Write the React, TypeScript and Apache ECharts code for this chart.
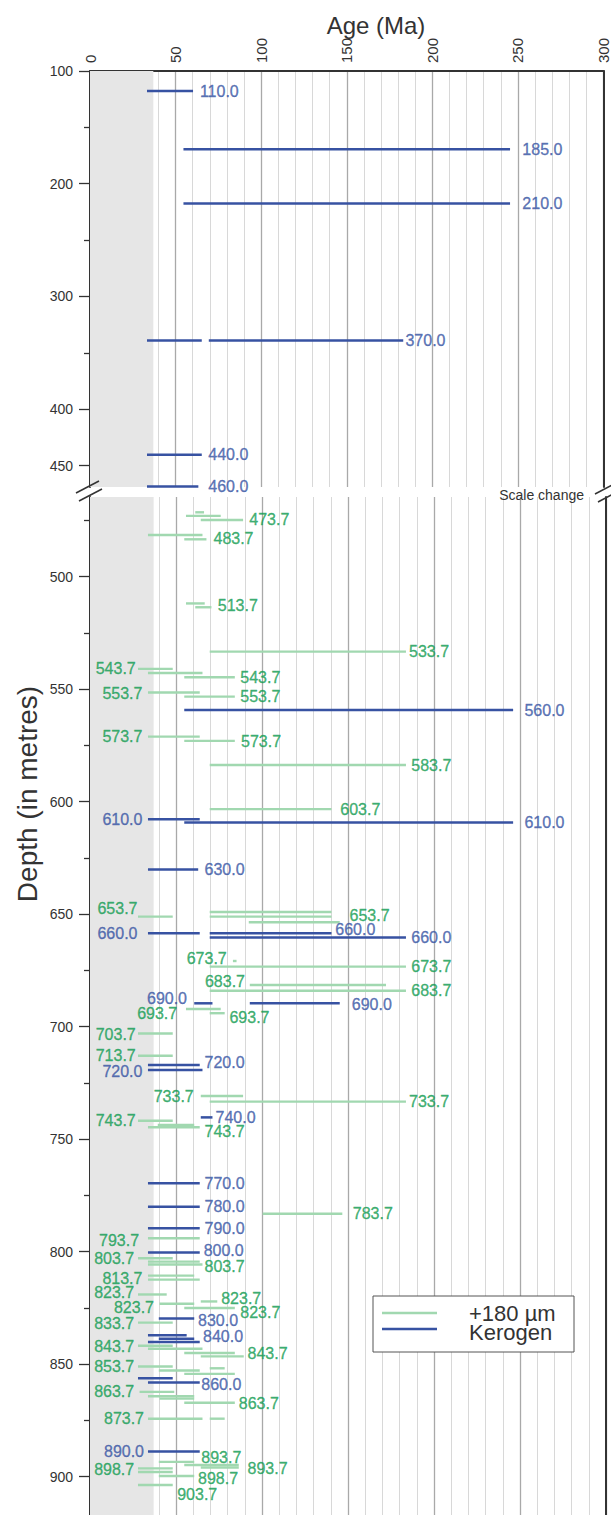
import React, { useEffect, useRef } from 'react';
import * as echarts from 'echarts';

// ---------- data ----------
// segments: [ageStart (Ma), ageEnd (Ma), plotted depth (m)]
const upperKerogen: number[][] = [
  [33.3, 60.2, 117.8], [54.6, 245.4, 169.3], [54.6, 245.4, 217.6],
  [33.3, 65.3, 339.1], [69.4, 183.0, 339.1], [33.3, 65.3, 440.4], [33.3, 63.3, 468.6],
];
const lowerKerogen: number[][] = [
  [54.8, 246, 559.3], [33.7, 63.8, 607.8], [54.8, 246, 609.3], [33.7, 62.9, 630.1],
  [33.7, 63.8, 658.5], [69.6, 140.4, 658.5], [69.6, 183.7, 660.4],
  [60.6, 71.2, 689.6], [92.9, 145.2, 689.6], [33.7, 63.8, 717.0], [33.7, 65.4, 719.2],
  [64.4, 71.2, 740.3], [33.7, 63.8, 769.6], [33.7, 63.8, 780.0], [33.7, 63.8, 789.6],
  [33.7, 63.8, 800.4], [40.0, 60.6, 829.7], [33.7, 56.2, 837.1], [40.0, 60.6, 838.7],
  [33.7, 63.8, 840.1], [27.9, 48.1, 856.2], [33.7, 63.8, 858.1], [33.7, 63.8, 888.8],
];
const lowerCoarse: number[][] = [
  [61.2, 66.3, 471.4], [55.8, 76.0, 473.0], [64.4, 89.0, 474.8],
  [33.7, 65.4, 481.5], [54.8, 67.7, 483.4],
  [55.8, 66.7, 511.9], [61.2, 70.6, 513.6],
  [69.6, 183.7, 533.3],
  [27.9, 48.1, 541.0], [33.7, 65.4, 542.8], [54.8, 84.2, 544.7],
  [33.7, 63.8, 551.5], [54.8, 84.2, 553.3],
  [33.7, 63.8, 571.1], [54.8, 84.2, 573.0],
  [69.6, 183.7, 583.7],
  [69.6, 140.4, 603.3],
  [27.9, 48.1, 651.1], [69.6, 140.4, 649.0], [69.6, 140.4, 651.1], [92.3, 145.2, 653.6],
  [83.1, 85.2, 670.8], [69.6, 183.7, 673.3],
  [92.9, 172.1, 681.5], [69.6, 183.7, 684.0],
  [55.8, 76.0, 692.1], [69.6, 78.3, 694.0],
  [27.9, 48.1, 703.0], [27.9, 48.1, 712.9],
  [64.4, 89.0, 730.8], [69.6, 183.7, 733.3],
  [27.9, 48.1, 741.8], [39.4, 60.6, 743.7], [33.7, 63.8, 744.7],
  [100.4, 146.7, 783.1],
  [33.7, 63.8, 794.0],
  [27.9, 48.1, 802.9], [33.7, 63.8, 804.4], [33.7, 65.4, 805.7],
  [33.7, 60.6, 810.6], [33.7, 63.8, 812.4],
  [27.9, 44.6, 819.0], [64.4, 74.0, 822.1], [40.4, 60.6, 823.1], [54.8, 84.2, 825.0],
  [27.9, 48.1, 831.5],
  [27.9, 48.1, 841.8], [33.7, 65.4, 843.1], [54.8, 84.2, 845.0], [64.4, 89.4, 846.5],
  [27.9, 48.1, 851.0], [69.6, 78.3, 851.8], [40.0, 63.8, 852.8], [54.8, 84.2, 854.3],
  [28.8, 49.0, 862.3], [33.7, 60.6, 864.2], [40.4, 60.6, 865.3], [54.8, 84.2, 867.1],
  [33.7, 65.4, 874.2], [69.6, 78.3, 874.2],
  [40.0, 60.6, 893.4], [54.8, 86.5, 894.8], [64.4, 86.5, 895.9],
  [27.9, 48.1, 896.3], [27.9, 48.1, 897.9], [40.0, 60.6, 899.7],
  [27.9, 48.1, 903.7],
];

// labels: [text, age, depth, side]  side 'L' = text starts at point, 'R' = text ends at point
type Lab = [string, number, number, string];
const upperKerogenLabels: Lab[] = [
  ['110.0', 63.9, 117.8, 'L'], ['185.0', 252.3, 169.3, 'L'], ['210.0', 252.3, 217.6, 'L'],
  ['370.0', 184.0, 339.1, 'L'], ['440.0', 68.8, 440.4, 'L'], ['460.0', 68.8, 468.6, 'L'],
];
const lowerKerogenLabels: Lab[] = [
  ['560.0', 252.3, 559.3, 'L'], ['610.0', 30.8, 608.1, 'R'], ['610.0', 252.3, 609.3, 'L'],
  ['630.0', 66.3, 630.1, 'L'], ['660.0', 27.9, 658.8, 'R'], ['660.0', 142.3, 657.0, 'L'],
  ['660.0', 186.5, 660.4, 'L'], ['690.0', 56.7, 687.4, 'R'], ['690.0', 151.9, 690.3, 'L'],
  ['720.0', 66.3, 716.0, 'L'], ['720.0', 30.8, 720.0, 'R'], ['740.0', 72.7, 740.3, 'L'],
  ['770.0', 66.3, 769.6, 'L'], ['780.0', 66.3, 780.0, 'L'], ['790.0', 66.3, 789.6, 'L'],
  ['800.0', 65.8, 799.5, 'L'], ['830.0', 62.5, 830.4, 'L'], ['840.0', 65.4, 837.8, 'L'],
  ['860.0', 64.4, 859.1, 'L'], ['890.0', 31.7, 888.9, 'R'],
];
const lowerCoarseLabels: Lab[] = [
  ['473.7', 92.3, 474.8, 'L'], ['483.7', 71.5, 483.0, 'L'], ['513.7', 74.0, 513.0, 'L'],
  ['533.7', 185.2, 533.3, 'L'], ['543.7', 26.9, 541.0, 'R'], ['543.7', 87.1, 544.7, 'L'],
  ['553.7', 30.8, 551.8, 'R'], ['553.7', 87.1, 553.3, 'L'], ['573.7', 30.8, 571.1, 'R'],
  ['573.7', 87.5, 573.3, 'L'], ['583.7', 186.5, 583.7, 'L'], ['603.7', 145.2, 603.3, 'L'],
  ['653.7', 27.9, 647.4, 'R'], ['653.7', 150.6, 650.8, 'L'],
  ['673.7', 79.8, 669.9, 'R'], ['673.7', 186.5, 673.3, 'L'],
  ['683.7', 90.4, 679.7, 'R'], ['683.7', 186.5, 684.0, 'L'],
  ['693.7', 51.0, 694.0, 'R'], ['693.7', 80.8, 695.8, 'L'],
  ['703.7', 26.9, 703.4, 'R'], ['713.7', 26.9, 712.6, 'R'],
  ['733.7', 60.6, 731.1, 'R'], ['733.7', 185.2, 733.3, 'L'],
  ['743.7', 26.9, 741.5, 'R'], ['743.7', 66.3, 746.4, 'L'],
  ['783.7', 152.5, 783.1, 'L'], ['793.7', 28.8, 795.1, 'R'],
  ['803.7', 26.0, 803.2, 'R'], ['803.7', 66.3, 806.5, 'L'],
  ['813.7', 30.8, 811.8, 'R'], ['823.7', 26.0, 818.2, 'R'], ['823.7', 76.0, 820.6, 'L'],
  ['823.7', 37.5, 825.0, 'R'], ['823.7', 87.1, 827.1, 'L'], ['833.7', 26.0, 831.9, 'R'],
  ['843.7', 26.0, 842.2, 'R'], ['843.7', 91.3, 845.1, 'L'], ['853.7', 26.0, 851.0, 'R'],
  ['863.7', 26.0, 862.1, 'R'], ['863.7', 86.2, 867.6, 'L'], ['873.7', 31.7, 874.2, 'R'],
  ['893.7', 64.4, 891.6, 'L'], ['893.7', 91.3, 896.3, 'L'], ['898.7', 26.0, 896.6, 'R'],
  ['898.7', 62.5, 900.7, 'L'], ['903.7', 50.4, 907.7, 'L'],
];

const upperTicks = [100, 200, 300, 400, 450];
const upperMinorTicks = [150, 250, 350];
const lowerTicks = [500, 550, 600, 650, 700, 750, 800, 850, 900];
const lowerMinorTicks = [475, 525, 575, 625, 675, 725, 775, 825, 875];
const shadedAge = [0, 37];
const legendNames = ['+180 \u00b5m', 'Kerogen'];

// ---------- styles ----------
const FONT = 'Liberation Sans, Arial, Helvetica, sans-serif';
const GREEN_LINE = '#a1d8b0';
const GREEN_TEXT = '#139d53';
const BLUE_LINE = '#3752a2';
const BLUE_TEXT = '#3654a4';
const AXIS = '#333333';

function segSeries(data: number[][], color: string, width: number, gi: number, name: string) {
  return {
    type: 'custom', name, xAxisIndex: gi, yAxisIndex: gi, z: 3, clip: false, silent: true,
    data,
    encode: { x: [0, 1], y: 2 },
    renderItem: (_p: any, api: any) => {
      const y = api.value(2);
      const a = api.coord([api.value(0), y]);
      const b = api.coord([api.value(1), y]);
      return {
        type: 'line',
        shape: { x1: a[0], y1: a[1], x2: b[0], y2: b[1] },
        style: { stroke: color, lineWidth: width },
      };
    },
  };
}

function labelSeries(labels: Lab[], color: string, gi: number) {
  return {
    type: 'scatter', xAxisIndex: gi, yAxisIndex: gi, z: 4, silent: true,
    symbolSize: 1, itemStyle: { color: 'rgba(0,0,0,0)' },
    data: labels.map((l) => ({
      name: l[0], value: [l[1], l[2]],
      label: { position: l[3] === 'L' ? 'right' : 'left' },
    })),
    label: {
      show: true, formatter: '{b}', distance: 0, color, fontSize: 16, fontFamily: FONT,
      textBorderColor: color, textBorderWidth: 0.35,
    },
  };
}

function bandSeries(gi: number) {
  return {
    type: 'line', xAxisIndex: gi, yAxisIndex: gi, data: [], z: -1, silent: true,
    markArea: {
      silent: true,
      itemStyle: { color: '#e6e6e6' },
      data: [[{ xAxis: shadedAge[0] }, { xAxis: shadedAge[1] }]],
    },
  };
}

export default function App() {
  const ref = useRef<HTMLDivElement>(null);
  useEffect(() => {
    document.body.style.margin = '0';
    const chart = echarts.init(ref.current!, null, { renderer: 'svg' });
    const xBase = (gi: number, show: boolean) => ({
      type: 'value', gridIndex: gi, position: 'top', min: 0, max: 300, interval: 50,
      axisLine: { show, lineStyle: { color: AXIS, width: 2 } },
      axisTick: { show: false },
      axisLabel: {
        show, rotate: -90, fontSize: 15, color: AXIS, margin: 8, fontFamily: FONT,
      },
      splitLine: { show: true, lineStyle: { color: '#a9a9a9', width: 1.3 } },
      minorTick: { show: false, splitNumber: 5 },
      minorSplitLine: { show: true, lineStyle: { color: '#d8d8d8', width: 1 } },
    });
    const yMain = (gi: number, min: number, max: number, ticks: number[]) => ({
      type: 'value', gridIndex: gi, inverse: true, min, max, position: 'left',
      axisLine: { show: true, lineStyle: { color: AXIS, width: 2 } },
      axisTick: { show: true, length: 11, customValues: ticks, lineStyle: { color: AXIS, width: 1.3 } },
      axisLabel: { show: true, customValues: ticks, fontSize: 14, color: AXIS, margin: 17, fontFamily: FONT },
      splitLine: { show: false },
    });
    const yMinor = (gi: number, min: number, max: number, ticks: number[]) => ({
      type: 'value', gridIndex: gi, inverse: true, min, max, position: 'left',
      axisLine: { show: false },
      axisTick: { show: true, length: 6, customValues: ticks, lineStyle: { color: AXIS, width: 1.3 } },
      axisLabel: { show: false },
      splitLine: { show: false },
    });
    const yRight = (gi: number, min: number, max: number) => ({
      type: 'value', gridIndex: gi, inverse: true, min, max, position: 'right',
      axisLine: { show: true, lineStyle: { color: AXIS, width: 2 } },
      axisTick: { show: false }, axisLabel: { show: false }, splitLine: { show: false },
    });
    const UMIN = 100, UMAX = 469, LMIN = 464.6, LMAX = 917;
    const slash = (x1: number, y1: number, x2: number, y2: number) => ({
      type: 'line', shape: { x1, y1, x2, y2 }, style: { stroke: AXIS, lineWidth: 1.5 }, z: 10,
    });
    chart.setOption({
      animation: false,
      backgroundColor: '#ffffff',
      grid: [
        { left: 90, right: 5, top: 71, height: 416 },
        { left: 90, right: 5, top: 497, height: 1018 },
      ],
      xAxis: [xBase(0, true), xBase(1, false)],
      yAxis: [
        yMain(0, UMIN, UMAX, upperTicks),
        yMain(1, LMIN, LMAX, lowerTicks),
        yMinor(0, UMIN, UMAX, upperMinorTicks),
        yMinor(1, LMIN, LMAX, lowerMinorTicks),
        yRight(0, UMIN, UMAX),
        yRight(1, LMIN, LMAX),
      ],
      series: [
        bandSeries(0),
        bandSeries(1),
        segSeries(lowerCoarse, GREEN_LINE, 2.4, 1, legendNames[0]),
        segSeries(upperKerogen, BLUE_LINE, 2.5, 0, legendNames[1]),
        segSeries(lowerKerogen, BLUE_LINE, 2.5, 1, legendNames[1]),
        labelSeries(upperKerogenLabels, BLUE_TEXT, 0),
        labelSeries(lowerKerogenLabels, BLUE_TEXT, 1),
        labelSeries(lowerCoarseLabels, GREEN_TEXT, 1),
      ],
      graphic: [
        {
          type: 'text', x: 376, y: 25, z: 10,
          style: { text: 'Age (Ma)', fontSize: 24, fontFamily: FONT, fill: AXIS, textAlign: 'center', textVerticalAlign: 'middle' },
        },
        {
          type: 'text', x: 27, y: 794, rotation: Math.PI / 2, z: 10,
          style: { text: 'Depth (in metres)', fontSize: 28, fontFamily: FONT, fill: AXIS, textAlign: 'center', textVerticalAlign: 'middle' },
        },
        {
          type: 'text', x: 584, y: 495, z: 10,
          style: { text: 'Scale change', fontSize: 14, fontFamily: FONT, fill: AXIS, textAlign: 'right', textVerticalAlign: 'middle' },
        },
        slash(76, 493, 99, 481),
        slash(79, 501, 102, 489),
        slash(595, 494, 618, 482),
        slash(598, 502, 621, 490),
        {
          type: 'rect', shape: { x: 373, y: 1296, width: 201, height: 56 }, z: 10,
          style: { fill: '#ffffff', stroke: '#555555', lineWidth: 1 },
        },
        {
          type: 'line', shape: { x1: 382, y1: 1313, x2: 437, y2: 1313 }, z: 11,
          style: { stroke: GREEN_LINE, lineWidth: 2.5 },
        },
        {
          type: 'line', shape: { x1: 382, y1: 1329, x2: 437, y2: 1329 }, z: 11,
          style: { stroke: BLUE_LINE, lineWidth: 2.5 },
        },
        {
          type: 'text', x: 469, y: 1313, z: 11,
          style: { text: legendNames[0], fontSize: 22, fontFamily: FONT, fill: AXIS, textVerticalAlign: 'middle' },
        },
        {
          type: 'text', x: 469, y: 1332, z: 11,
          style: { text: legendNames[1], fontSize: 22, fontFamily: FONT, fill: AXIS, textVerticalAlign: 'middle' },
        },
      ],
    });
    return () => chart.dispose();
  }, []);
  return <div ref={ref} style={{ width: 611, height: 1515 }} />;
}
